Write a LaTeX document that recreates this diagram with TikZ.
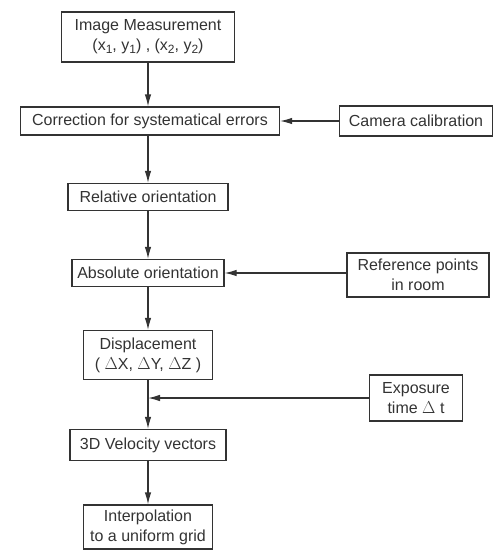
\documentclass[tikz,border=0pt]{standalone}
\usepackage{fontspec}
\setmainfont{Liberation Sans}
\usetikzlibrary{arrows.meta}
\definecolor{ink}{HTML}{333333}
\newcommand{\lowsub}[1]{\raisebox{-0.3ex}{\fontsize{12}{12}\selectfont #1}}
\tikzstyle{box}=[draw=ink, shape=rectangle, line width=1.2pt, inner sep=0pt, align=center, text=ink, font=\fontsize{16}{20}\selectfont]
\tikzstyle{edge}=[draw=ink, line width=1.2pt, -{Latex[length=12pt,width=6.5pt]}]

\begin{document}
\begin{tikzpicture}[x=1pt, y=-1pt]
            \useasboundingbox (0,0) rectangle (500,550);
            \node[box, minimum width=173pt, minimum height=50pt] (meas) at (148,37) {Image Measurement\\(x\lowsub{1}, y\lowsub{1}) , (x\lowsub{2}, y\lowsub{2})};
            \node[box, minimum width=259pt, minimum height=28pt] (corr) at (150,121) {Correction for systematical errors};
            \node[box, minimum width=153pt, minimum height=30pt] (calib) at (416,121) {Camera calibration};
            \node[box, minimum width=160pt, minimum height=27pt] (relor) at (148,197) {Relative orientation};
            \node[box, minimum width=152pt, minimum height=27pt] (absor) at (148,273) {Absolute orientation};
            \node[box, minimum width=142pt, minimum height=44pt] (refpts) at (418,275) {Reference points\\in room};
            \node[box, minimum width=129pt, minimum height=49pt] (displ) at (148,355) {Displacement\\( $\Delta$X, $\Delta$Y, $\Delta$Z )};
            \node[box, minimum width=93pt, minimum height=46pt] (expos) at (416,398) {Exposure\\time $\Delta$ t};
            \node[box, minimum width=156pt, minimum height=31pt] (veloc) at (148,445) {3D Velocity vectors};
            \node[box, minimum width=129pt, minimum height=44pt] (interp) at (148,527) {Interpolation\\to a uniform grid};
            \coordinate (join) at (148,398);
            \draw[edge] (meas) -- (meas.south |- corr.north);
            \draw[edge] (calib) -- (corr);
            \draw[edge] (meas.south |- corr.south) -- (relor);
            \draw[edge] (relor) -- (absor);
            \draw[edge] (refpts.west |- absor) -- (absor);
            \draw[edge] (absor) -- (displ);
            \draw[edge] (displ) -- (veloc);
            \draw[edge] (expos) -- (join);
            \draw[edge] (veloc) -- (interp);
        \end{tikzpicture}
\end{document}
